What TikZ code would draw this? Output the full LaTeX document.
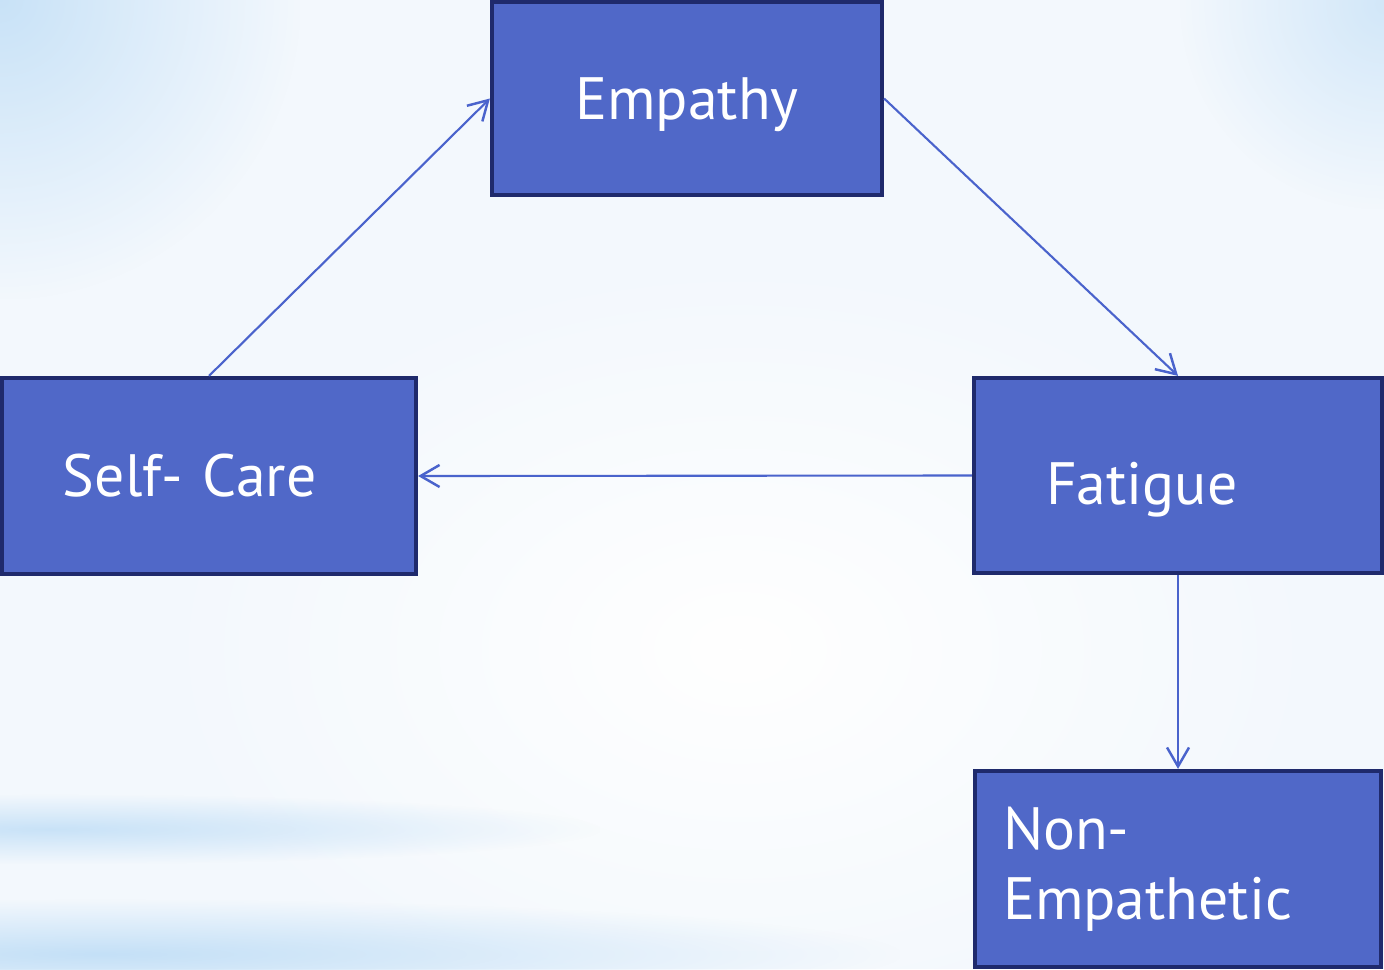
\documentclass[tikz,border=0pt]{standalone}
\usepackage{fontspec}
\setmainfont{PT Sans}
\usetikzlibrary{arrows.meta,fadings}

\definecolor{boxblue}{HTML}{5068C8}
\definecolor{boxedge}{HTML}{1F2A6C}
\definecolor{arrowblue}{HTML}{4A63CC}
\definecolor{bgblue}{HTML}{C4E0F7}
\definecolor{bgbase}{HTML}{F3F8FD}

\tikzfading[name=blob, inner color=transparent!0, outer color=transparent!100]

\begin{document}
\begin{tikzpicture}[
		box/.style={draw=boxedge, line width=1.2pt, fill=boxblue, text=white,
			font=\fontsize{17}{20}\selectfont, inner ysep=0pt, text height=11.9pt, text depth=0pt},
		link/.style={draw=arrowblue, line width=0.6pt, -{Straight Barb[length=1.9mm, width=2.2mm, line width=0.7pt]}}
	]
		\useasboundingbox (0, 0) rectangle (13.84, 9.69);
		% background
		\fill[bgbase] (0, 0) rectangle (13.84, 9.69);
		\fill[white, path fading=blob] (1.4, -0.8) rectangle (13.4, 7.2);
		\fill[bgblue, path fading=blob, opacity=0.9] (-3, 6.7) rectangle (3, 12.7);
		\fill[bgblue, path fading=blob, opacity=0.7] (11.8, 7.6) rectangle (15.9, 11.7);
		\fill[bgblue, path fading=blob, opacity=0.9] (-5, 1.05) rectangle (6, 1.75);
		\fill[bgblue, path fading=blob] (-7, -0.4) rectangle (9, 0.7);

		\node[box, minimum width=3.9cm, minimum height=1.93cm, text width=3.6cm, align=center] (E) at (6.87, 8.705) {Empathy};
		\node[box, minimum width=4.14cm, minimum height=1.96cm, inner xsep=0.61cm, text width=2.92cm, align=left] (S) at (2.09, 4.93) {Self- Care};
		\node[box, minimum width=4.08cm, minimum height=1.95cm, inner xsep=0.72cm, text width=2.64cm, align=left, text height=16.4pt] (F) at (11.78, 4.935) {Fatigue};
		\node[box, minimum width=4.06cm, minimum height=1.96cm, inner xsep=0.28cm, text width=3.5cm, align=left, text height={}, text depth={}] (N) at (11.78, 1.00) {Non-\\Empathetic};

		\draw[link] (S.north) -- (E.west);
		\draw[link] (E.east) -- (F.north);
		\draw[link] (F.west) -- (S.east);
		\draw[link] (F.south) -- (N.north);
	\end{tikzpicture}
\end{document}
